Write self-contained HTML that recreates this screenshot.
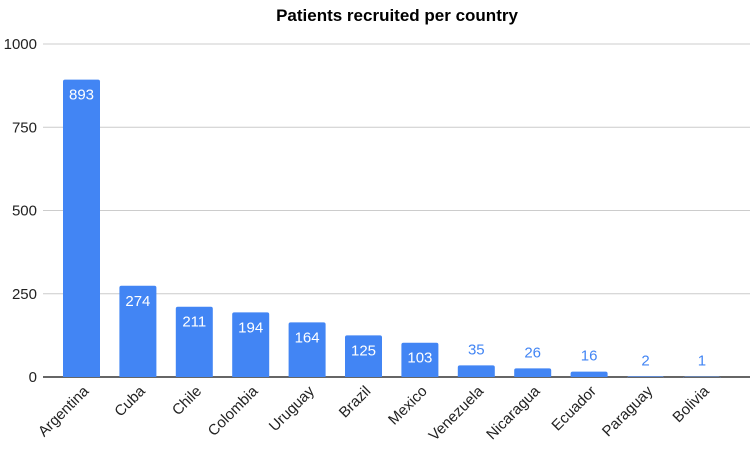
<!DOCTYPE html>
<html><head><meta charset="utf-8"><style>
body{margin:0;background:#fff;font-family:"Liberation Sans",Arial,sans-serif;}
svg text{font-family:"Liberation Sans",Arial,sans-serif;}
</style></head><body>
<svg width="750" height="446" xmlns="http://www.w3.org/2000/svg">
<text x="397" y="21" text-anchor="middle" font-size="17" font-weight="bold" fill="#000">Patients recruited per country</text>
<g id="grid"></g><g id="bars"></g><g id="labels"></g>
</svg>
<script>
const categories=["Argentina","Cuba","Chile","Colombia","Uruguay","Brazil","Mexico","Venezuela","Nicaragua","Ecuador","Paraguay","Bolivia"];
const values=[893,274,211,194,164,125,103,35,26,16,2,1];
const ticks=[0,250,500,750,1000];
const NS="http://www.w3.org/2000/svg";
const y0=377,yTop=44,maxV=1000;
function yScale(v){return y0-(v/maxV)*(y0-yTop);}
function xScale(i){return 81.5+i*56.4;}
const bw=37;
function mk(tag,attrs,parent){const e=document.createElementNS(NS,tag);for(const k in attrs)e.setAttribute(k,attrs[k]);parent.appendChild(e);return e;}
const grid=document.getElementById('grid'),bars=document.getElementById('bars'),labels=document.getElementById('labels');
ticks.forEach(t=>{
  const l=mk('line',{x1:43,x2:752,y1:yScale(t),y2:yScale(t),stroke:t===0?'#333':'#ccc','stroke-width':t===0?1.5:1},grid);
  
  
  const tx=mk('text',{x:37,y:yScale(t)+5,'text-anchor':'end','font-size':15,fill:'#222'},grid);
  tx.textContent=t;
  
  
});
categories.forEach((c,i)=>{
  const cx=xScale(i),v=values[i],yt=yScale(v);
  const r=mk('path',{d:`M${cx-bw/2},${y0} L${cx-bw/2},${yt+2} Q${cx-bw/2},${yt} ${cx-bw/2+2},${yt} L${cx+bw/2-2},${yt} Q${cx+bw/2},${yt} ${cx+bw/2},${yt+2} L${cx+bw/2},${y0} Z`,fill:'#4285f4'},bars);
  
  
  const inside=(y0-yt)>30;
  const vt=mk('text',{x:cx,y:inside?yt+20:yt-11,'text-anchor':'middle','font-size':15,fill:inside?'#fff':'#4285f4'},labels);
  vt.textContent=v;
  
  
  const ct=mk('text',{x:cx+8,y:392,'text-anchor':'end','font-size':15,fill:'#222',transform:`rotate(-45 ${cx+8} 392)`},labels);
  ct.textContent=c;
  
  
});
</script>
</body></html>
